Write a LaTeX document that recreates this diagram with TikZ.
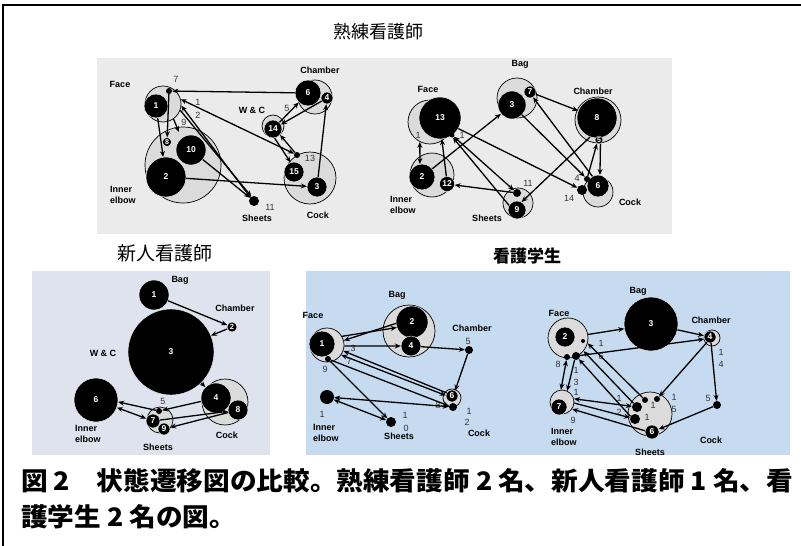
\documentclass[tikz,border=0pt]{standalone}
\usepackage{fontspec}
\setmainfont{Liberation Sans}
\newfontfamily\cjk{Noto Sans CJK JP}
\usetikzlibrary{arrows.meta}
\begin{document}
\begin{tikzpicture}[x=1pt,y=-1pt,
 lt/.style={circle,fill=black!14,draw=black,line width=0.7pt,inner sep=0pt},
 bk/.style={circle,fill=black,draw=white,line width=0.4pt,inner sep=0pt,text=white,font=\fontsize{8.5}{9}\selectfont\bfseries},
 dot/.style={circle,fill=black,inner sep=0pt},
 lab/.style={font=\fontsize{9}{10}\selectfont\bfseries,inner sep=0pt},
 labl/.style={font=\fontsize{9}{11}\selectfont\bfseries,inner sep=0pt,anchor=north west,align=left},
 num/.style={font=\fontsize{9}{10}\selectfont,text=black!80,inner sep=0pt},
 ar/.style={-{Stealth[length=6pt,width=5pt]},line width=1.3pt},
 ba/.style={{Stealth[length=6pt,width=5pt]}-{Stealth[length=6pt,width=5pt]},line width=1.3pt}]
\useasboundingbox (0,0) rectangle (801,546);
\fill[white] (0,0) rectangle (801,546);
\draw[line width=1.5pt] (3,546) -- (3,5) -- (801,5);
% panels
\fill[black!8] (97,58) rectangle (672,234);
\fill[fill={rgb,255:red,198;green,218;blue,240}] (306,271) rectangle (790,455);
\fill[fill={rgb,255:red,222;green,227;blue,237}] (32,271) rectangle (270,455);
% titles
\node[font=\cjk\fontsize{18}{19}\selectfont] (t1) at (378,32) {熟練看護師};
\node[font=\cjk\fontsize{19}{20}\selectfont] (t2) at (165,253) {新人看護師};
\node[font=\cjk\bfseries\fontsize{17}{18}\selectfont] (t3) at (527,256) {看護学生};
\node[font=\cjk\bfseries\fontsize{25.5}{27}\selectfont,anchor=west,inner sep=0pt,xscale=1.045,transform shape] (cap1) at (21,481) {図 2　状態遷移図の比較。熟練看護師 2 名、新人看護師 1 名、看};
\node[font=\cjk\bfseries\fontsize{25.5}{27}\selectfont,anchor=west,inner sep=0pt,xscale=1.045,transform shape] (cap2) at (21,517) {護学生 2 名の図。};

% ================= A: top-left =================
\node[lt,minimum size=36pt] (AFace) at (163,104) {};
\node[lt,minimum size=76pt] (AIE) at (183,165) {};
\node[lt,minimum size=34pt] (ACh) at (315,97) {};
\node[lt,minimum size=22pt] (AWC) at (273,126) {};
\node[lt,minimum size=52pt] (ACock) at (310,178) {};
\node[bk,minimum size=24pt] (A1) at (156,106) {1};
\node[dot,minimum size=6pt] (A7) at (169,91) {};
\node[bk,minimum size=40pt] (A2) at (166,177) {2};
\node[bk,minimum size=30pt] (A10) at (191,150) {10};
\node[bk,minimum size=9pt,font=\fontsize{7}{7}\selectfont\bfseries] (A8) at (167,142) {8};
\node[bk,minimum size=26pt] (A6) at (308,93) {6};
\node[bk,minimum size=12pt] (A4) at (327,98) {4};
\node[bk,minimum size=18pt] (A14) at (273,129) {14};
\node[bk,minimum size=20pt] (A15) at (294,172) {15};
\node[dot,minimum size=6pt] (A13) at (297,155) {};
\node[bk,minimum size=20pt] (A3) at (317,187) {3};
\node[dot,minimum size=10pt] (A11) at (254,201) {};
\coordinate (A9) at (179,132);
\node[lab] (lAFace) at (120,84) {Face};
\node[lab] (lACh) at (320,70) {Chamber};
\node[lab] (lAWC) at (252,110) {W \& C};
\node[labl] (lAIE) at (110,186) {Inner\\elbow};
\node[lab] (lACock) at (318,215) {Cock};
\node[lab] (lASh) at (257,218) {Sheets};
\node[num] (nA11) at (270,207) {11};
\node[num] (nA13) at (310,158) {13};
\node[num] (nA5) at (287,108) {5};
\node[num] (nA1) at (198,102) {1};
\node[num] (nA2) at (198,115) {2};
\node[num] (nA9) at (184,122) {9};
\node[num] (nA7) at (176,79) {7};
\draw[ar] (A6) -- (A7);
\draw[ar] (A7) -- (A8);
\draw[ar] (A1) -- (A2);
\draw[ar] (AFace.-55) -- (A9);
\draw[ba] (AFace.15) -- (A13);
\draw[ar] (A11.135) -- (AFace.-5);
\draw[ar] (AFace.-20) -- (A11.120);
\draw[ar] (A10) -- (A11);
\draw[ar] (A2) -- (A3);
\draw[ar] (A3) -- (A4);
\draw[ar] (A4) -- (A14);
\draw[ar] (A14) -- (A6);
\draw[ar] (A14.-80) -- (A15.110);
\draw[ar] (A13) -- (A14.-40);

% ================= B: top-right =================
\node[lt,minimum size=44pt] (BFace) at (430,122) {};
\node[lt,minimum size=44pt] (BIE) at (432,175) {};
\node[lt,minimum size=40pt] (BBag) at (517,98) {};
\node[lt,minimum size=46pt] (BCh) at (598,120) {};
\node[lt,minimum size=30pt] (BCock) at (598,192) {};
\node[lt,minimum size=30pt] (BSh) at (518,203) {};
\node[bk,minimum size=42pt] (B13) at (440,118) {13};
\node[bk,minimum size=26pt] (B2) at (422,177) {2};
\node[bk,minimum size=15pt] (B12) at (447,184) {12};
\node[bk,minimum size=28pt] (B3) at (512,105) {3};
\node[bk,minimum size=12pt] (B7) at (530,92) {7};
\node[bk,minimum size=40pt] (B8) at (597,118) {8};
\node[bk,minimum size=8pt,font=\fontsize{7}{7}\selectfont\bfseries] (B5) at (599,140) {5};
\node[bk,minimum size=22pt] (B6) at (598,186) {6};
\node[dot,minimum size=6pt] (B4) at (587,179) {};
\node[dot,minimum size=10pt] (B14) at (582,190) {};
\node[bk,minimum size=18pt] (B9) at (517,210) {9};
\node[dot,minimum size=8pt] (B11) at (517,193) {};
\node[dot,minimum size=5pt] (BFd) at (452,135) {};
\node[lab] (lBFace) at (428,89) {Face};
\node[lab] (lBBag) at (520,64) {Bag};
\node[lab] (lBCh) at (593,91) {Chamber};
\node[labl] (lBIE) at (390,196) {Inner\\elbow};
\node[lab] (lBSh) at (487,218) {Sheets};
\node[lab] (lBCock) at (630,202) {Cock};
\node[num] (nB1a) at (418,135) {1};
\node[num] (nB1b) at (462,135) {1};
\node[num] (nB4) at (577,178) {4};
\node[num] (nB14) at (569,198) {14};
\node[num] (nB11) at (528,183) {11};
\draw[ba] (BFace.-117) -- (B2.99);
\draw[ar] (B12.95) -- (B13.-85);
\draw[ar] (B2) -- (B3);
\draw[ar] (B13.-30) -- (B14);
\draw[ba] (BFd) -- (B11);
\draw[ar] (B9.150) -- (BFd.-70);
\draw[ar] (B11) -- (B12);
\draw[ar] (B7) -- (B8);
\draw[ar] (B3) -- (B4);
\draw[ar] (B6.120) -- (B7.-60);
\draw[ar] (B8.-110) -- (B9.60);
\draw[ar] (B5.-70) -- (B6.80);
\draw[ar] (B4) -- (B5.-120);

% ================= C: bottom-left =================
\node[lt,minimum size=46pt] (CCock) at (225,402) {};
\node[lt,minimum size=26pt] (CSh) at (160,420) {};
\node[bk,minimum size=30pt] (C1) at (154,295) {1};
\node[bk,minimum size=10pt,font=\fontsize{7.5}{8}\selectfont\bfseries] (C2) at (232,327) {2};
\node[bk,minimum size=86pt] (C3) at (171,352) {3};
\node[bk,minimum size=30pt] (C4) at (216,398) {4};
\node[bk,minimum size=20pt] (C8) at (238,410) {8};
\node[bk,minimum size=44pt] (C6) at (96,400) {6};
\node[bk,minimum size=14pt] (C7) at (153,421) {7};
\node[bk,minimum size=12pt] (C9) at (164,429) {9};
\node[dot,minimum size=6pt] (C5) at (159,411) {};
\node[lab] (lCBag) at (180,280) {Bag};
\node[lab] (lCCh) at (235,308) {Chamber};
\node[lab] (lCWC) at (103,353) {W \& C};
\node[labl] (lCIE) at (75,425) {Inner\\elbow};
\node[lab] (lCSh) at (158,447) {Sheets};
\node[lab] (lCCock) at (227,435) {Cock};
\node[num] (nC5) at (163,401) {5};
\draw[ar] (C1) -- (C2);
\draw[ar] (C2) -- (C3);
\draw[ar] (C3) -- (C4);
\draw[ar] (C4) -- (C5);
\draw[ba] (C6.-20) -- (C7);
\draw[ar] (C5) -- (C6.-5);
\draw[ar] (C7) -- (C8);
\draw[ar] (C8) -- (C9);

% ================= D: bottom-right, left =================
\node[lt,minimum size=34pt] (DFace) at (327,345) {};
\node[lt,minimum size=52pt] (DBag) at (409,331) {};
\node[lt,minimum size=18pt] (DCock) at (452,398) {};
\node[bk,minimum size=26pt] (D1) at (322,344) {1};
\node[dot,minimum size=6pt] (D9) at (328,359) {};
\node[bk,minimum size=32pt] (D2) at (412,322) {2};
\node[bk,minimum size=20pt] (D4) at (411,346) {4};
\node[dot,minimum size=8pt] (D5) at (469,350) {};
\node[bk,minimum size=12pt] (D6) at (452,396) {6};
\node[dot,minimum size=8pt] (D8) at (453,407) {};
\node[dot,minimum size=14pt] (DIE) at (327,397) {};
\node[dot,minimum size=10pt] (DSh) at (391,422) {};
\node[lab] (lDFace) at (313,315) {Face};
\node[lab] (lDBag) at (397,295) {Bag};
\node[lab] (lDCh) at (472,328) {Chamber};
\node[labl] (lDIE) at (313,424) {Inner\\elbow};
\node[lab] (lDSh) at (399,436) {Sheets};
\node[lab] (lDCock) at (479,433) {Cock};
\node[num] (nD9) at (325,369) {9};
\node[num] (nD3) at (353,348) {3};
\node[num] (nD7) at (349,361) {7};
\node[num] (nD5) at (468,341) {5};
\node[num] (nD8) at (438,405) {8};
\node[num] (nD1) at (322,414) {1};
\node[num] (nDs1) at (405,415) {1};
\node[num] (nDs0) at (406,428) {0};
\node[num] (nDc1) at (469,411) {1};
\node[num] (nDc2) at (467,422) {2};
\draw[ar] (DFace.30) -- (D2.200);
\draw[ar] (D2.185) -- (DFace.15);
\draw[ar] (DFace.-3) -- (D4);
\draw[ar] (D4) -- (D5);
\draw[ar] (D5) -- (D6.60);
\draw[ar] (D6.150) -- (DFace.-20);
\draw[ba] (DFace.-35) -- (D6.175);
\draw[ar] (D9) -- (D8.165);
\draw[ba] (D8) -- (DIE);
\draw[ar] (D9) -- (DSh);
\draw[ba] (DIE) -- (DSh);

% ================= E: bottom-right, right =================
\node[lt,minimum size=40pt] (EFace) at (568,338) {};
\node[lt,minimum size=16pt] (ECh) at (712,338) {};
\node[lt,minimum size=24pt] (EIE) at (562,402) {};
\node[lt,minimum size=44pt] (ESh) at (650,414) {};
\node[bk,minimum size=20pt] (E2) at (565,337) {2};
\node[dot,minimum size=4pt] (Ea) at (583,341) {};
\node[dot,minimum size=8pt] (Eb) at (576,356) {};
\node[dot,minimum size=6pt] (Ec) at (567,357) {};
\node[bk,minimum size=54pt] (E3) at (651,324) {3};
\node[bk,minimum size=12pt] (E4) at (710,337) {4};
\node[dot,minimum size=8pt] (E5) at (717,405) {};
\node[bk,minimum size=16pt] (E7) at (559,407) {7};
\node[bk,minimum size=14pt] (E6) at (652,432) {6};
\node[dot,minimum size=10pt] (Ee) at (637,407) {};
\node[dot,minimum size=10pt] (Ef) at (635,419) {};
\node[dot,minimum size=6pt] (Eg) at (645,400) {};
\node[dot,minimum size=6pt] (Eh) at (657,399) {};
\node[lab] (lEBag) at (638,291) {Bag};
\node[lab] (lEFace) at (559,313) {Face};
\node[lab] (lECh) at (711,320) {Chamber};
\node[labl] (lEIE) at (551,428) {Inner\\elbow};
\node[lab] (lECock) at (711,440) {Cock};
\node[lab] (lESh) at (650,452) {Sheets};
\node[num] (nE1) at (601,343) {1};
\node[num] (nE6) at (601,356) {6};
\node[num] (nE8) at (558,364) {8};
\node[num] (nE1b) at (576,370) {1};
\node[num] (nE3) at (576,382) {3};
\node[num] (nE1c) at (576,392) {1};
\node[num] (nE9) at (573,420) {9};
\node[num] (nE1d) at (619,398) {1};
\node[num] (nE2) at (619,412) {2};
\node[num] (nE1e) at (653,405) {1};
\node[num] (nE1f) at (647,417) {1};
\node[num] (nE1g) at (674,397) {1};
\node[num] (nE5b) at (674,409) {5};
\node[num] (nE1h) at (721,352) {1};
\node[num] (nE4) at (721,364) {4};
\node[num] (nE5) at (708,398) {5};
\draw[ar] (EFace.10) -- (E3.190);
\draw[ar] (E3) -- (E4);
\draw[ar] (Eb) -- (E4.200);
\draw[ar] (E4.-120) -- (Eh);
\draw[ar] (E4.-80) -- (E5);
\draw[ar] (E5) -- (E6);
\draw[ar] (Eg) -- (EFace.-15);
\draw[ar] (Ee) -- (EFace.-40);
\draw[ar] (Ef.150) -- (Eb);
\draw[ba] (Ec) -- (EIE.95);
\draw[ar] (Eb.-110) -- (EIE.65);
\draw[ba] (EIE.15) -- (Ee);
\draw[ar] (EIE.-5) -- (Ef);
\draw[ar] (E6.170) -- (EIE.-35);
\end{tikzpicture}
\end{document}
